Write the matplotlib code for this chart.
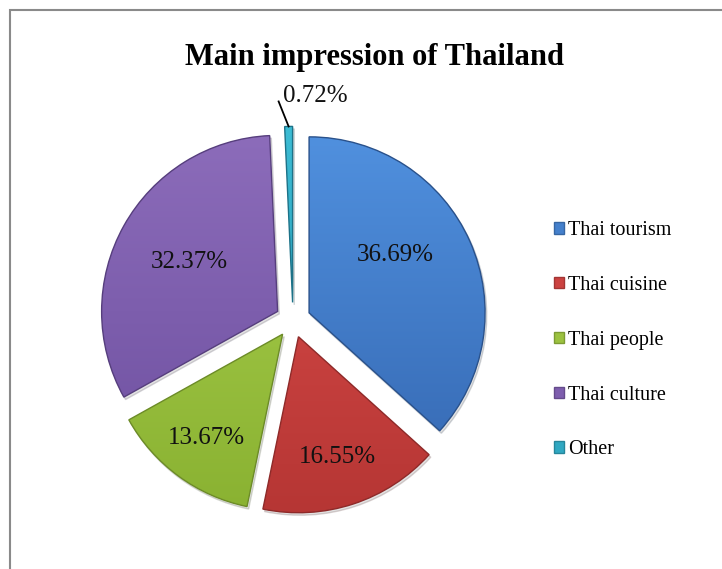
import numpy as np
import matplotlib
matplotlib.use("Agg")
import matplotlib.pyplot as plt
from matplotlib.colors import to_rgb, LinearSegmentedColormap
from matplotlib.patches import Rectangle, Patch

# Survey shares (percent)
categories = ["Thai tourism", "Thai cuisine", "Thai people", "Thai culture", "Other"]
shares = [36.69, 16.55, 13.67, 32.37, 0.72]
title = "Main impression of Thailand"

# gradient colours per slice (top, bottom)
top_colors = ["#5090DE", "#DA4C4A", "#A8CE4C", "#8C6CBA", "#3CBCD4"]
bottom_colors = ["#3568B2", "#B63634", "#8AB232", "#6E50A0", "#2592AE"]
base_colors = ["#4480CC", "#CC4240", "#9CC240", "#7E5EAE", "#30A8C2"]

W, H = 722, 569
fig = plt.figure(figsize=(W / 100, H / 100), dpi=100)
ax = fig.add_axes([0, 0, 1, 1])

cx, cy, R = 293, H - 320, 176
# pie offsets are in data units here (axes scaled in pixels)
explode = [0.1 * R] * len(shares)

wedges, texts, autotexts = ax.pie(
    shares, colors=base_colors, startangle=90, counterclock=False,
    explode=explode, center=(cx, cy), radius=R,
    autopct=lambda p: f"{p:.2f}%", pctdistance=0.6,
    wedgeprops=dict(linewidth=1.0),
    shadow=dict(ox=1.2, oy=-1.8, alpha=0.18, facecolor="#606060"),
    textprops=dict(family="Liberation Serif", fontsize=18, color="#111111"),
)

# vertical gradient fill with a darker rim on every slice
grad = np.linspace(1, 0, 256).reshape(-1, 1)
for w, c0, c1 in zip(wedges, top_colors, bottom_colors):
    cmap = LinearSegmentedColormap.from_list("g", [c1, c0])
    x0 = w.center[0] - R
    y0 = w.center[1] - R
    im = ax.imshow(grad, cmap=cmap, extent=(x0, x0 + 2 * R, y0, y0 + 2 * R),
                   origin="upper", aspect="auto", zorder=w.get_zorder() + 0.1,
                   interpolation="bilinear")
    im.set_clip_path(w)
    w.set_edgecolor(tuple(v * 0.78 for v in to_rgb(c1)))
    w.set_zorder(w.get_zorder() + 0.2)
    w.set_facecolor("none")

# label placement: (radial fraction of radius, angular shift in degrees)
label_pos = [(0.59, 10), (0.72, 0), (0.73, 0), (0.575, 0)]
for t, w, (r, shift) in zip(autotexts[:4], wedges[:4], label_pos):
    ang = np.deg2rad((w.theta1 + w.theta2) / 2 + shift)
    t.set_position((w.center[0] + r * R * np.cos(ang), w.center[1] + r * R * np.sin(ang)))
    t.set_zorder(5)

# small slice: label outside with a leader line
w = wedges[4]
ang = np.deg2rad((w.theta1 + w.theta2) / 2)
tip = (w.center[0] + R * np.cos(ang), w.center[1] + R * np.sin(ang))
lab = autotexts[4]
lab.set_position((tip[0] - 6, tip[1] + 19))
lab.set_ha("left")
lab.set_va("bottom")
ax.plot([tip[0] - 10, tip[0]], [tip[1] + 25, tip[1]], color="black", lw=1.3, zorder=6)

ax.set_xlim(0, W)
ax.set_ylim(0, H)
ax.set_aspect("auto")
ax.axis("off")

fig.text(374 / W, 1 - 58 / H, title, ha="center", va="center",
         family="Liberation Serif", weight="bold", fontsize=22)

handles = [Patch(facecolor=c, edgecolor=tuple(v * 0.8 for v in to_rgb(c))) for c in base_colors]
fig.legend(handles, categories, loc="upper left", bbox_to_anchor=(554 / W, 1 - 221 / H),
           frameon=False, prop=dict(family="Liberation Serif", size=14.5),
           handlelength=0.5, handleheight=0.5, handletextpad=0.2,
           labelspacing=1.78, borderpad=0, borderaxespad=0)

# chart area border
fig.patches.append(Rectangle((10 / W, -0.05), 1.2, 1 - 10 / H + 0.05, transform=fig.transFigure,
                             fill=False, edgecolor="#8a8a8a", lw=1.5))

fig.savefig("out.png", dpi=100)
